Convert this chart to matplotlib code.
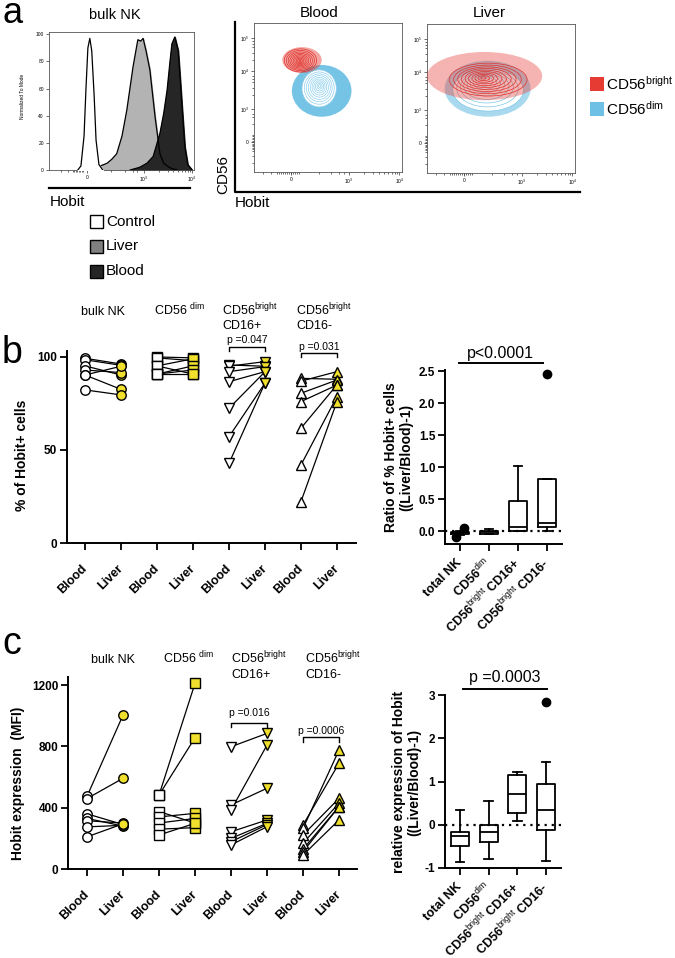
"""Hobit in blood vs liver NK cells: flow plots (a), % Hobit+ (b), Hobit MFI (c)."""
import matplotlib.pyplot as plt
import numpy as np
from matplotlib.patches import Ellipse, Rectangle

plt.rcParams['font.family'] = ['Liberation Sans', 'DejaVu Sans']
plt.rcParams['mathtext.fontset'] = 'custom'
plt.rcParams['mathtext.rm'] = 'Liberation Sans'
plt.rcParams['mathtext.default'] = 'regular'

W, H = 675, 958
YELLOW = '#f0df2c'
RED = '#e63b32'
BLUE = '#6ec1e4'

# ---- panel a: histogram (x in display units: 0 -> "0", 1.19 -> 10^3, 2.19 -> 10^4)
HIST_CONTROL_X = [-0.19, -0.125, -0.06, -0.02, 0.02, 0.06, 0.10, 0.15, 0.19, 0.25, 0.33]
HIST_CONTROL_Y = [0, 3, 25, 60, 90, 97, 88, 55, 22, 4, 0]
HIST_LIVER_X = [0.02, 0.21, 0.42, 0.52, 0.62, 0.73, 0.83, 0.96, 1.02, 1.06,
                1.12, 1.17, 1.23, 1.31, 1.42, 1.52, 1.60, 1.67, 1.77, 1.88]
HIST_LIVER_Y = [0, 2, 5, 8, 12, 25, 44, 76, 88, 96, 95, 97, 88, 74, 39, 12, 5, 3, 1, 0]
HIST_BLOOD_X = [0.90, 1.10, 1.25, 1.38, 1.52, 1.60, 1.67, 1.73, 1.77, 1.83,
                1.90, 1.94, 1.98, 2.04, 2.10, 2.19]
HIST_BLOOD_Y = [0, 2, 5, 10, 27, 42, 59, 80, 93, 98, 88, 68, 47, 17, 4, 0]

# ---- panel a: contour populations, [cx, cy, half-width, half-height]
BLOOD_BRIGHT_CLOUD = [0.22, 2.34, 0.39, 0.37]
BLOOD_BRIGHT_RINGS = [0.19, 2.33, 0.32, 0.33]
BLOOD_BRIGHT_CORE = [0.18, 2.31]
BLOOD_DIM_CLOUD = [0.61, 1.46, 0.59, 0.74]
BLOOD_DIM_RINGS = [0.56, 1.53, 0.34, 0.53]
BLOOD_DIM_CORE = [0.57, 1.60]
LIVER_BRIGHT_CLOUD = [0.41, 1.91, 1.14, 0.69]
LIVER_BRIGHT_RINGS = [0.48, 1.81, 0.77, 0.47]
LIVER_BRIGHT_CORE = [0.38, 1.86]
LIVER_DIM_CLOUD = [0.47, 1.55, 0.85, 0.80]
LIVER_DIM_RINGS = [0.48, 1.51, 0.70, 0.60]
LIVER_DIM_CORE = [0.38, 1.84]
RING_LEVELS = [1.0, 0.87, 0.75, 0.64, 0.53, 0.43, 0.33, 0.24, 0.15, 0.07]

FLOW_XTICKS = [0, 1.15, 2.15]
FLOW_XLABELS = ['0', '10$^3$', '10$^4$']
FLOW_YTICKS = [0, 0.94, 2.03, 2.97]
FLOW_YLABELS = ['0', '10$^3$', '10$^4$', '10$^5$']

# ---- panels b / c: paired blood vs liver
GROUP_MARKERS = ['o', 's', 'v', '^']
PCT_BLOOD = [
    [99.3, 98.5, 95.2, 93.0, 90.3, 90.3, 82.3],
    [100.0, 99.5, 95.2, 95.2, 90.8, 90.8, 90.8],
    [95.7, 95.0, 92.1, 86.7, 72.4, 57.1, 42.8],
    [88.5, 87.0, 80.5, 76.0, 61.7, 41.9, 22.2],
]
PCT_LIVER = [
    [96.2, 95.5, 90.3, 91.6, 95.0, 82.6, 79.6],
    [99.5, 98.0, 99.0, 90.8, 95.2, 93.0, 90.8],
    [95.0, 97.5, 94.8, 92.1, 92.0, 85.9, 85.9],
    [88.0, 92.1, 87.6, 84.9, 85.0, 78.7, 76.0],
]
MFI_BLOOD = [
    [475, 460, 360, 330, 315, 275, 210],
    [483, 483, 375, 340, 300, 260, 222],
    [798, 418, 385, 243, 200, 178, 157],
    [287, 265, 222, 168, 130, 113, 91],
]
MFI_LIVER = [
    [1005, 592, 290, 280, 300, 285, 295],
    [1212, 857, 300, 363, 330, 270, 298],
    [885, 527, 809, 320, 298, 290, 276],
    [690, 776, 461, 430, 407, 407, 320],
]

# ---- box plots: (whisker low, q1, median, q3, whisker high)
BOX_LABELS = ['total NK', 'CD56$^{\\mathrm{dim}}$',
              'CD56$^{\\mathrm{bright}}$ CD16+', 'CD56$^{\\mathrm{bright}}$ CD16-']
RATIO_STATS = [(-0.06, -0.05, -0.03, -0.01, 0.0),
               (-0.05, -0.04, -0.02, 0.0, 0.04),
               (0.0, 0.0, 0.06, 0.48, 1.02),
               (0.0, 0.07, 0.13, 0.81, 0.81)]
RATIO_FLIERS = [[-0.09, 0.05], [], [], [2.45]]
REL_STATS = [(-0.86, -0.49, -0.27, -0.16, 0.33),
             (-0.79, -0.39, -0.16, 0.0, 0.56),
             (0.09, 0.28, 0.72, 1.16, 1.21),
             (-0.84, -0.12, 0.35, 0.95, 1.44)]
REL_FLIERS = [[], [], [], [2.84]]

fig = plt.figure(figsize=(W / 100, H / 100), dpi=100)


def px_axes(x0, y0, x1, y1):
    return fig.add_axes([x0 / W, 1 - y1 / H, (x1 - x0) / W, (y1 - y0) / H])


def ftext(x, y, s, **kw):
    fig.text(x / W, 1 - y / H, s, **kw)


def thin_frame(ax):
    for s in ax.spines.values():
        s.set_linewidth(0.6)
        s.set_color('#555555')
    ax.tick_params(which='both', direction='out', labelsize=3.5, width=0.5,
                   length=2.5, pad=1.2, color='#333333')
    ax.tick_params(which='minor', length=1.6)


def draw_population(ax, cloud, rings, core, dot_color, ring_color, alpha, hollow, z):
    ax.add_patch(Ellipse(cloud[:2], 2 * cloud[2], 2 * cloud[3], facecolor=dot_color,
                         edgecolor='none', alpha=alpha, zorder=z))
    if hollow:
        ax.add_patch(Ellipse(rings[:2], 2 * rings[2], 2 * rings[3], facecolor='white',
                             edgecolor='none', zorder=z + 1))
    for s in RING_LEVELS:
        cx = core[0] + s * (rings[0] - core[0])
        cy = core[1] + s * (rings[1] - core[1])
        ax.add_patch(Ellipse((cx, cy), 2 * rings[2] * s, 2 * rings[3] * s, facecolor='none',
                             edgecolor=ring_color, lw=0.5, zorder=z + 2))


def flow_axes(ax):
    ax.set_xlim(-0.73, 2.2)
    ax.set_ylim(-0.86, 3.4)
    ax.set_xticks(FLOW_XTICKS, FLOW_XLABELS)
    ax.set_yticks(FLOW_YTICKS, FLOW_YLABELS)
    rug = list(np.linspace(-0.27, 0.17, 12))
    ax.set_xticks([-0.55, -0.4] + rug + [0.55, 0.8, 0.95, 1.05, 1.45, 1.63, 1.75, 1.85,
                                         1.93, 2.0, 2.06, 2.11], minor=True)
    ax.set_yticks([-0.6, -0.4] + list(np.linspace(-0.25, 0.2, 12)) +
                  [0.5, 0.7, 0.8, 1.33, 1.55, 1.7, 1.8, 1.88, 2.33, 2.55, 2.7, 2.8, 2.88],
                  minor=True)
    thin_frame(ax)


# ================= panel a =================
ax_h = px_axes(49, 32, 194, 170)
ax_h.fill_between(HIST_LIVER_X, HIST_LIVER_Y, color='#b3b3b3', zorder=1)
ax_h.fill_between(HIST_BLOOD_X, HIST_BLOOD_Y, color='#262626', zorder=2)
ax_h.plot(HIST_LIVER_X, HIST_LIVER_Y, color='black', lw=0.9, zorder=3)
ax_h.plot(HIST_BLOOD_X, HIST_BLOOD_Y, color='black', lw=0.9, zorder=3)
ax_h.fill_between(HIST_CONTROL_X, HIST_CONTROL_Y, color='white', zorder=3)
ax_h.plot(HIST_CONTROL_X, HIST_CONTROL_Y, color='black', lw=0.9, zorder=4)
ax_h.set_xlim(-0.79, 2.23)
ax_h.set_ylim(0, 101.7)
ax_h.set_xticks([0, 1.19, 2.19], ['0', '10$^3$', '10$^4$'])
ax_h.set_yticks([0, 20, 40, 60, 80, 100])
ax_h.set_xticks([-0.55, -0.4] + list(np.linspace(-0.29, -0.08, 8)) +
                [0.5, 0.8, 0.95, 1.05, 1.5, 1.68, 1.8, 1.9, 1.98, 2.05, 2.1, 2.15], minor=True)
thin_frame(ax_h)
ftext(23, 96, 'Normalized To Mode', rotation=90, ha='center', va='center', fontsize=3.5)

ax_bl = px_axes(254, 23, 402, 172)
draw_population(ax_bl, BLOOD_DIM_CLOUD, BLOOD_DIM_RINGS, BLOOD_DIM_CORE,
                BLUE, '#8fd0ee', 0.95, True, 1)
draw_population(ax_bl, BLOOD_BRIGHT_CLOUD, BLOOD_BRIGHT_RINGS, BLOOD_BRIGHT_CORE,
                RED, '#e0302a', 0.45, False, 4)
flow_axes(ax_bl)

ax_lv = px_axes(427, 24, 575, 173)
draw_population(ax_lv, LIVER_DIM_CLOUD, LIVER_DIM_RINGS, LIVER_DIM_CORE,
                BLUE, '#7cc8e8', 0.6, True, 1)
draw_population(ax_lv, LIVER_BRIGHT_CLOUD, LIVER_BRIGHT_RINGS, LIVER_BRIGHT_CORE,
                RED, '#e0302a', 0.38, False, 4)
flow_axes(ax_lv)

ftext(2, 23, 'a', fontsize=26, va='baseline')
ftext(115, 15, 'bulk NK', fontsize=10.5, ha='center', va='center')
ftext(319, 13, 'Blood', fontsize=11, ha='center', va='center')
ftext(489, 13, 'Liver', fontsize=11, ha='center', va='center')
ftext(50, 202, 'Hobit', fontsize=11, va='center')
ftext(235, 203, 'Hobit', fontsize=11, va='center')
ftext(223, 174, 'CD56', fontsize=11, rotation=90, ha='center', va='center')
for y, lab in zip([222, 246, 271], ['Control', 'Liver', 'Blood']):
    ftext(106, y, lab, fontsize=11, va='center')
ftext(606, 84, 'CD56$^{bright}$', fontsize=11, va='center')
ftext(606, 109, 'CD56$^{dim}$', fontsize=11, va='center')


# ================= paired panels b / c =================
def paired_panel(ax, blood, liver, xlim, ylim, yticks):
    for g in range(4):
        xb, xl = 2 * g + 1, 2 * g + 2
        for b, l in zip(blood[g], liver[g]):
            ax.plot([xb, xl], [b, l], color='black', lw=0.9, zorder=2)
        ms = 6.8 if GROUP_MARKERS[g] == 'o' else 7.3
        ax.plot(np.full(len(blood[g]), xb), blood[g], ls='none', marker=GROUP_MARKERS[g],
                ms=ms, mfc='white', mec='black', mew=1.0, zorder=3, clip_on=False)
        ax.plot(np.full(len(liver[g]), xl), liver[g], ls='none', marker=GROUP_MARKERS[g],
                ms=ms, mfc=YELLOW, mec='black', mew=1.0, zorder=3, clip_on=False)
    ax.set_xlim(*xlim)
    ax.set_ylim(*ylim)
    ax.set_xticks(range(1, 9), ['Blood', 'Liver'] * 4, rotation=45, ha='right', va='center',
                  rotation_mode='anchor', fontsize=9, fontweight='bold')
    ax.set_yticks(yticks, [str(t) for t in yticks], fontsize=8.5, fontweight='bold')
    ax.tick_params(axis='x', direction='out', length=5, width=1.3, pad=12)
    ax.tick_params(axis='y', direction='out', length=5, width=1.3, pad=2)
    for side in ('top', 'right'):
        ax.spines[side].set_visible(False)
    for side in ('left', 'bottom'):
        ax.spines[side].set_linewidth(1.4)


def bracket(ax, x0, x1, y, drop, label, ty, fs):
    ax.plot([x0, x0, x1, x1], [y - drop, y, y, y - drop], color='black', lw=1.0,
            clip_on=False)
    ax.text((x0 + x1) / 2, ty, label, ha='center', va='center', fontsize=fs)


def box_panel(ax, stats, fliers, xlim, ylim, yticks, ylabels):
    bstats = [dict(whislo=s[0], q1=s[1], med=s[2], q3=s[3], whishi=s[4], fliers=[])
              for s in stats]
    lp = dict(color='black', lw=1.3)
    ax.bxp(bstats, positions=[1, 2, 3, 4], widths=0.63, capwidths=0.3, showfliers=False,
           boxprops=lp, medianprops=lp, whiskerprops=lp, capprops=lp)
    for g, vals in enumerate(fliers):
        offs = [0.0] if len(vals) == 1 else np.linspace(-0.15, 0.15, len(vals))
        for o, v in zip(offs, vals):
            ax.plot(g + 1 + o, v, 'o', color='black', ms=6, zorder=4, clip_on=False)
    ax.axhline(0, color='black', lw=1.6, ls=(0, (1, 2.2)), zorder=1)
    ax.set_xlim(*xlim)
    ax.set_ylim(*ylim)
    ax.set_xticks([1, 2, 3, 4], BOX_LABELS, rotation=45, ha='right', va='center',
                  rotation_mode='anchor', fontsize=9, fontweight='bold')
    ax.set_yticks(yticks, ylabels, fontsize=8.5, fontweight='bold')
    ax.tick_params(axis='x', direction='out', length=5, width=1.3, pad=7)
    ax.tick_params(axis='y', direction='out', length=5, width=1.3, pad=2)
    for side in ('top', 'right'):
        ax.spines[side].set_visible(False)
    for side in ('left', 'bottom'):
        ax.spines[side].set_linewidth(1.4)


def group_titles(x_bulk, x_dim, x_p, x_m, y1, y2):
    ftext(x_bulk, y1, 'bulk NK', fontsize=9, ha='center', va='baseline')
    ftext(x_dim, y1, 'CD56 $^{dim}$', fontsize=9, va='baseline')
    for x, lab in [(x_p, 'CD16+'), (x_m, 'CD16-')]:
        ftext(x, y1, 'CD56$^{bright}$', fontsize=9, va='baseline')
        ftext(x, y2, lab, fontsize=9, va='baseline')


# panel b
ax_b = px_axes(67, 351, 356, 543)
paired_panel(ax_b, PCT_BLOOD, PCT_LIVER, (0.5, 8.53), (0, 103.2), [0, 50, 100])
bracket(ax_b, 5, 6, 105.4, 2.2, 'p =0.047', 109.2, 7.5)
bracket(ax_b, 7, 8, 102.2, 2.4, 'p =0.031', 105.6, 7.5)
group_titles(103, 154, 222, 296, 315, 329)
ftext(2, 363, 'b', fontsize=27, va='baseline')
ftext(22, 455, '% of Hobit+ cells', rotation=90, ha='center', va='center',
      fontsize=10, fontweight='bold')

ax_br = px_axes(445, 370, 562, 544)
box_panel(ax_br, RATIO_STATS, RATIO_FLIERS, (0.48, 4.52), (-0.2, 2.52),
          [0, 0.5, 1.0, 1.5, 2.0, 2.5], ['0.0', '0.5', '1.0', '1.5', '2.0', '2.5'])
ax_br.plot([0.97, 3.86], [2.625, 2.625], color='black', lw=1.4, clip_on=False)
ax_br.text(2.41, 2.78, 'p<0.0001', ha='center', va='center', fontsize=11.5)
ftext(399, 457, 'Ratio of % Hobit+ cells\n((Liver/Blood)-1)', rotation=90, ha='center',
      va='center', multialignment='center', fontsize=10, fontweight='bold', linespacing=1.1)

# panel c
ax_c = px_axes(68, 677, 357, 869)
paired_panel(ax_c, MFI_BLOOD, MFI_LIVER, (0.47, 8.5), (0, 1253), [0, 400, 800, 1200])
bracket(ax_c, 5, 6, 953, 26, 'p =0.016', 1018, 7.5)
bracket(ax_c, 7, 8, 861, 32, 'p =0.0006', 900, 7.5)
group_titles(113, 163, 231, 305, 663, 678)
ftext(2, 654, 'c', fontsize=27, va='baseline')
ftext(18, 783, 'Hobit expression  (MFI)', rotation=90, ha='center', va='center',
      fontsize=10, fontweight='bold')

ax_cr = px_axes(445, 695, 561, 868)
box_panel(ax_cr, REL_STATS, REL_FLIERS, (0.48, 4.52), (-1, 3),
          [-1, 0, 1, 2, 3], ['-1', '0', '1', '2', '3'])
ax_cr.plot([1.1, 4.03], [3.14, 3.14], color='black', lw=1.4, clip_on=False)
ax_cr.text(2.57, 3.4, 'p =0.0003', ha='center', va='center', fontsize=11.5)
ftext(407, 782, 'relative expression of Hobit\n((Liver/Blood)-1)', rotation=90,
      ha='center', va='center', multialignment='center', fontsize=10, fontweight='bold',
      linespacing=1.1)

# ================= decorations in pixel space =================
deco = fig.add_axes([0, 0, 1, 1])
deco.set_xlim(0, W)
deco.set_ylim(H, 0)
deco.axis('off')
deco.plot([49, 190], [188, 188], color='black', lw=1.6)
deco.plot([235, 235, 580], [22, 192, 192], color='black', lw=1.6)
for y, fc in zip([215, 240, 265], ['white', '#808080', '#262626']):
    deco.add_patch(Rectangle((90, y), 13, 13, facecolor=fc, edgecolor='black', lw=1.0))
deco.add_patch(Rectangle((590, 77), 14, 14, facecolor=RED, edgecolor='none'))
deco.add_patch(Rectangle((590, 102), 14, 14, facecolor=BLUE, edgecolor='none'))

fig.savefig('out.png', dpi=100, facecolor='white')
